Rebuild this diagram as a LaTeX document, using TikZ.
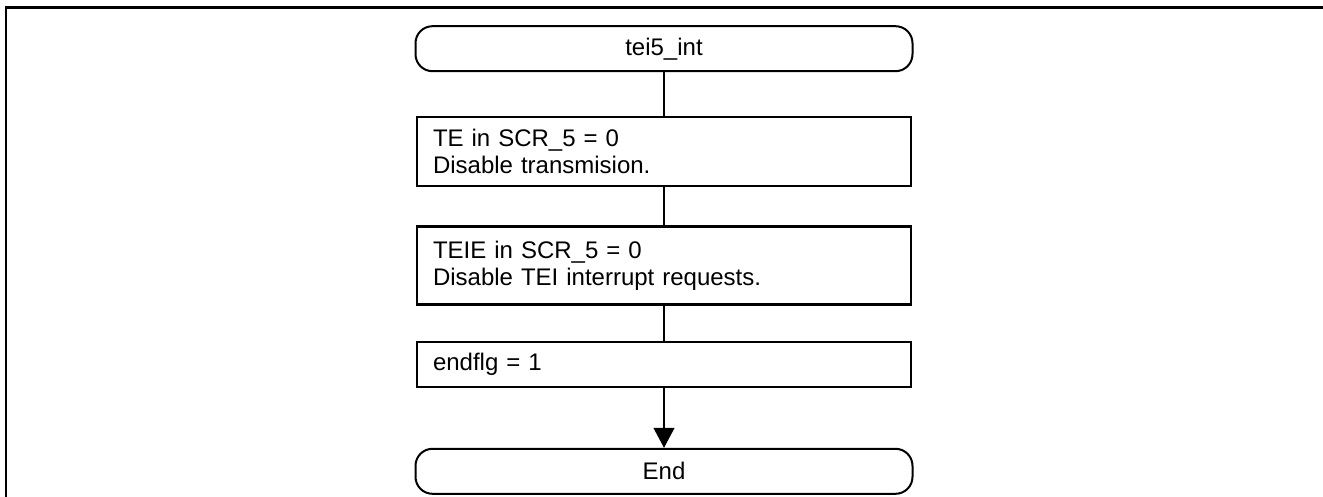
\documentclass[tikz,border=0pt]{standalone}
\usepackage{fontspec}
\setmainfont{Liberation Sans}
\usetikzlibrary{matrix,arrows.meta}

\tikzset{
  terminal/.style={draw, line width=2pt, rounded corners=17pt, minimum width=497pt, minimum height=45pt, inner sep=0pt, align=center},
  procbox/.style={draw, line width=2.2pt, text width=462pt, inner xsep=16pt, inner ysep=0pt, align=left},
  flow/.style={line width=1.2pt}
}

\begin{document}
\begin{tikzpicture}[x=1pt, y=1pt, font=\fontsize{24}{27}\selectfont]
  \useasboundingbox (0,0) rectangle (1323,-497);
  \draw[line width=2.5pt] (6,-497) |- (1323,-7.5);
  \matrix (m) at (664,-25) [anchor=north, inner sep=0pt, row sep=35pt]
  {
\node[terminal] (start) {tei5\_int}; \\[9pt]
\node[procbox, minimum height=69pt] (te) {TE in SCR\_5 = 0\\Disable transmision.}; \\[3pt]
\node[procbox, minimum height=78pt] (teie) {TEIE in SCR\_5 = 0\\Disable TEI interrupt requests.}; \\
\node[procbox, minimum height=45pt] (flag) {endflg = 1}; \\[25pt]
\node[terminal] (stop) {End}; \\
};
  \draw[flow] (start) -- (te);
  \draw[flow] (te) -- (teie);
  \draw[flow] (teie) -- (flag);
  \draw[flow, -{Triangle[length=20pt, width=21pt]}] (flag) -- (stop);
\end{tikzpicture}
\end{document}
